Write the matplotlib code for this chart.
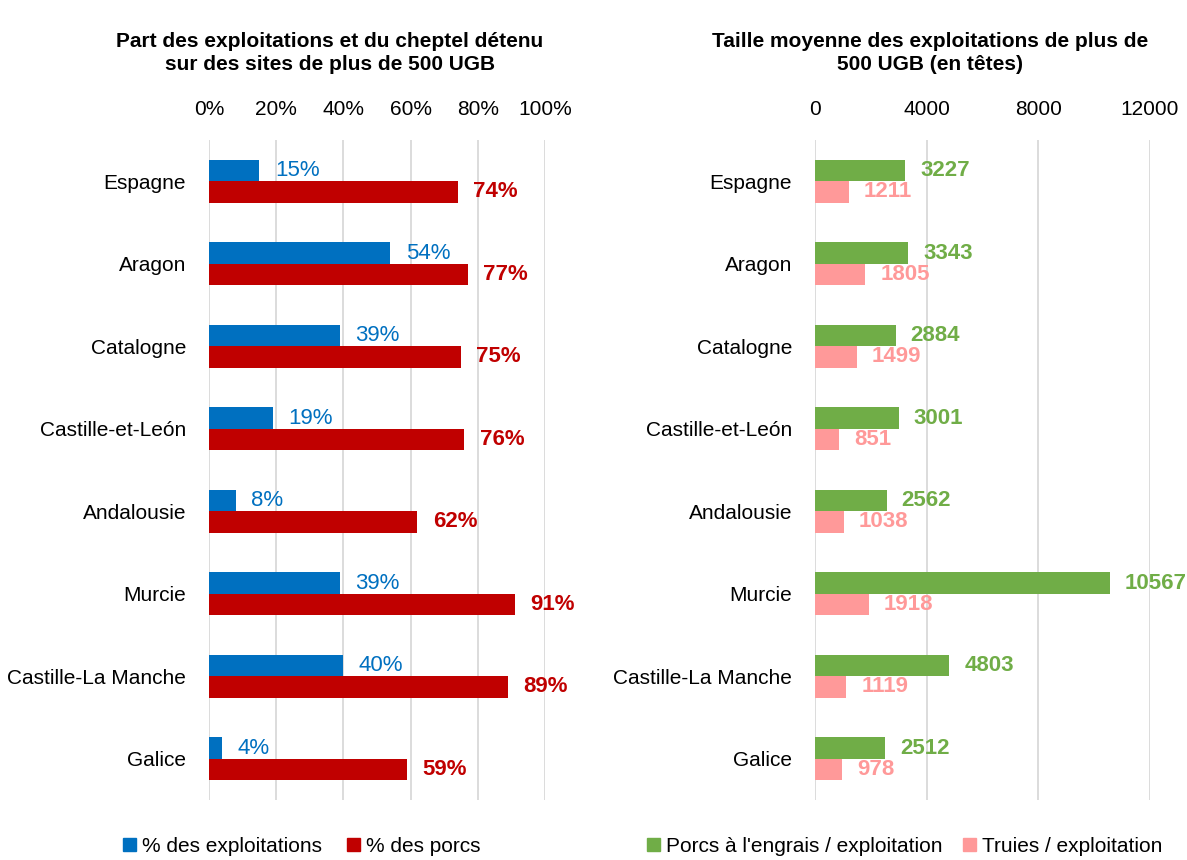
import numpy as np
import matplotlib
matplotlib.use("Agg")
import matplotlib.pyplot as plt
from matplotlib.patches import Patch

plt.rcParams['font.family'] = ['Liberation Sans Narrow', 'Liberation Sans', 'DejaVu Sans']

regions = ["Espagne", "Aragon", "Catalogne", "Castille-et-León", "Andalousie",
           "Murcie", "Castille-La Manche", "Galice"]
pct_exploit = [15, 54, 39, 19, 8, 39, 40, 4]
pct_porcs = [74, 77, 75, 76, 62, 91, 89, 59]
engrais = [3227, 3343, 2884, 3001, 2562, 10567, 4803, 2512]
truies = [1211, 1805, 1499, 851, 1038, 1918, 1119, 978]

blue = "#0070C0"
red = "#C00000"
green = "#70AD47"
pink = "#FF9999"

fig = plt.figure(figsize=(11.87, 8.6), dpi=100)
ax1 = fig.add_axes([209/1187, 1 - 800/860, 336/1187, 660/860])
ax2 = fig.add_axes([815/1187, 1 - 800/860, 335/1187, 660/860])

y = np.arange(len(regions))
h = 0.26


def style(ax):
    ax.set_ylim(len(regions) - 0.5, -0.5)
    ax.xaxis.tick_top()
    ax.tick_params(axis='both', length=0, labelsize=15)
    ax.tick_params(axis='y', pad=16.5)
    ax.tick_params(axis='x', pad=15)
    for s in ax.spines.values():
        s.set_visible(False)
    ax.grid(axis='x', color="#D9D9D9", linewidth=1.3)
    ax.set_axisbelow(True)
    ax.set_yticks(y)
    ax.set_yticklabels(regions)


# left chart
ax1.barh(y - h/2, pct_exploit, height=h, color=blue)
ax1.barh(y + h/2, pct_porcs, height=h, color=red)
style(ax1)
ax1.set_xlim(0, 100)
ax1.set_xticks([0, 20, 40, 60, 80, 100])
ax1.set_xticklabels([f"{t}%" for t in [0, 20, 40, 60, 80, 100]])
for i in range(len(regions)):
    ax1.text(pct_exploit[i] + 4.6, y[i] - h/2, f"{pct_exploit[i]}%", color=blue,
             fontsize=16, va='center', ha='left')
    ax1.text(pct_porcs[i] + 4.6, y[i] + h/2, f"{pct_porcs[i]}%", color=red,
             fontsize=16, fontweight='bold', va='center', ha='left')

# right chart
ax2.barh(y - h/2, engrais, height=h, color=green)
ax2.barh(y + h/2, truies, height=h, color=pink)
style(ax2)
ax2.set_xlim(0, 12000)
ax2.set_xticks([0, 4000, 8000, 12000])
for i in range(len(regions)):
    ax2.text(engrais[i] + 540, y[i] - h/2, f"{engrais[i]}", color=green,
             fontsize=16, fontweight='bold', va='center', ha='left')
    ax2.text(truies[i] + 540, y[i] + h/2, f"{truies[i]}", color=pink,
             fontsize=16, fontweight='bold', va='center', ha='left')

fig.text(330/1187, 1 - 53/860, "Part des exploitations et du cheptel détenu\nsur des sites de plus de 500 UGB",
         ha='center', va='center', fontsize=15, fontweight='bold', linespacing=1.25)
fig.text(930/1187, 1 - 53/860, "Taille moyenne des exploitations de plus de\n500 UGB (en têtes)",
         ha='center', va='center', fontsize=15, fontweight='bold', linespacing=1.25)

fig.legend(handles=[Patch(color=blue, label="% des exploitations"),
                    Patch(color=red, label="% des porcs")],
           loc='center', bbox_to_anchor=(302/1187, 1 - 846/860), ncol=2, frameon=False,
           fontsize=15, handlelength=0.6, handleheight=0.6, handletextpad=0.3, columnspacing=1.2)
fig.legend(handles=[Patch(color=green, label="Porcs à l'engrais / exploitation"),
                    Patch(color=pink, label="Truies / exploitation")],
           loc='center', bbox_to_anchor=(905/1187, 1 - 846/860), ncol=2, frameon=False,
           fontsize=15, handlelength=0.6, handleheight=0.6, handletextpad=0.3, columnspacing=1.0)

fig.savefig("out.png", dpi=100)
